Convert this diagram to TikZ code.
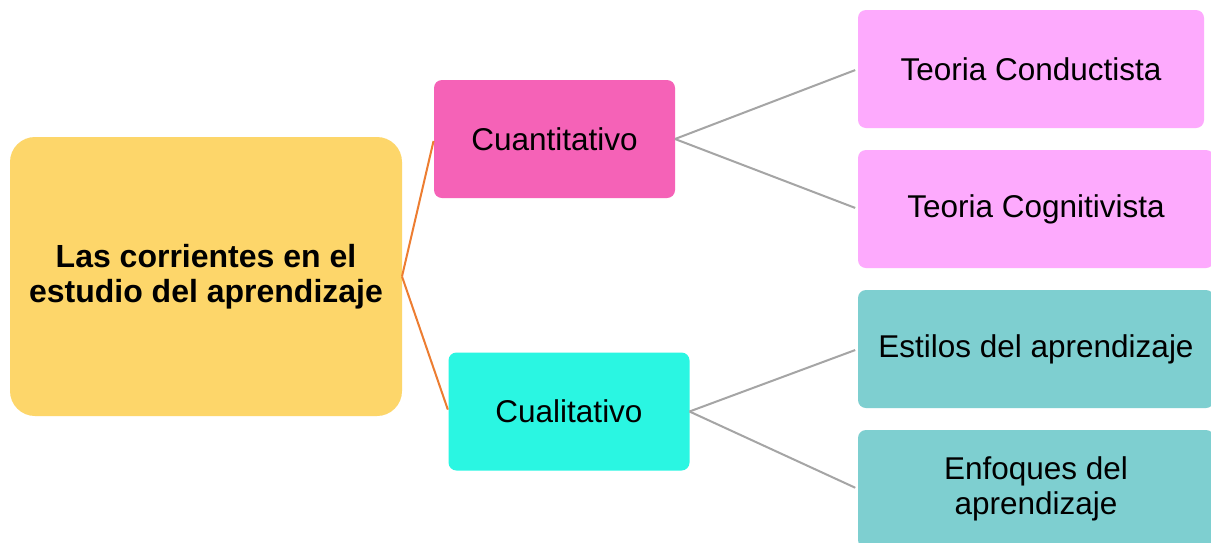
\documentclass[tikz,border=0pt]{standalone}
\usepackage{fontspec}
\setmainfont{Liberation Sans}
\definecolor{rootc}{HTML}{FDD66A}
\definecolor{cuantc}{HTML}{F562B7}
\definecolor{cualc}{HTML}{2AF6E2}
\definecolor{lpink}{HTML}{FDAAFD}
\definecolor{tealc}{HTML}{7ECFD0}
\definecolor{orangec}{HTML}{ED7D31}
\definecolor{grayc}{HTML}{A5A5A5}
\begin{document}
\begin{tikzpicture}[x=1pt,y=-1pt,
  box/.style={rounded corners=8pt, inner sep=0pt, outer sep=0pt, align=center,
    font=\fontsize{31.5}{35}\selectfont},
  leaf/.style={box, minimum width=356pt, minimum height=118pt},
  midbox/.style={box, minimum width=241pt, minimum height=118pt},
  orangeline/.style={draw=orangec, line width=2pt},
  grayline/.style={draw=grayc, line width=2pt, shorten >=3pt}]
\useasboundingbox (0,0) rectangle (1211,542);
\clip (0,0) rectangle (1211,542);
\fill[white] (0,0) rectangle (1211,542);
\node[box, fill=rootc, minimum width=392pt, minimum height=279pt, rounded corners=25pt,
  font=\fontsize{32}{35}\selectfont\bfseries] (root) at (206,276.5)
  {Las corrientes en el\\estudio del aprendizaje};
\node[midbox, fill=cuantc] (cuant) at (554.5,139) {Cuantitativo};
\node[midbox, fill=cualc] (cual) at (569,411.5) {Cualitativo};
\node[leaf, fill=lpink, minimum width=346pt] (tc) at (1031,69) {Teoria Conductista};
\node[leaf, fill=lpink] (tg) at (1036,209) {Teoria Cognitivista};
\node[leaf, fill=tealc] (es) at (1036,349) {Estilos del aprendizaje};
\node[leaf, fill=tealc] (en) at (1036,489) {Enfoques del\\aprendizaje};
\draw[orangeline, shorten >=2pt] (root.east) -- (cuant.west);
\draw[orangeline, shorten >=2pt] (root.east) -- (cual.west);
\draw[grayline] (cuant.east) -- (tc.west);
\draw[grayline] (cuant.east) -- (tg.west);
\draw[grayline] (cual.east) -- (es.west);
\draw[grayline] (cual.east) -- (en.west);
\end{tikzpicture}
\end{document}
